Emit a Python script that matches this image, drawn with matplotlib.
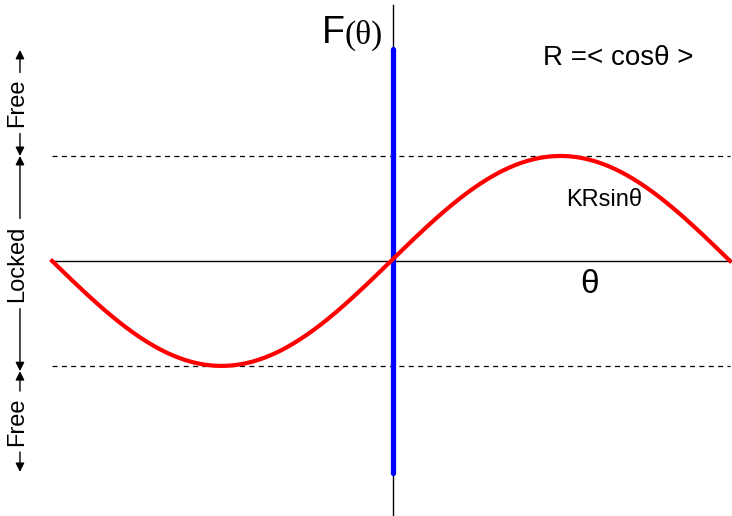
import numpy as np
import matplotlib
matplotlib.use("Agg")
import matplotlib.pyplot as plt

# Curve parameters
theta_min, theta_max = -np.pi, np.pi
amplitude = 1.0          # KR, peak of the coupling force
force_extent = 2.02      # half-length of the vertical F(theta) bar
n_points = 400

# Regions along the force axis: (label, y_low, y_high)
regions = [("Free", 1.0, 2.01), ("Locked", -1.05, 1.0), ("Free", -2.01, -1.05)]

fig = plt.figure(figsize=(7.32, 5.16), dpi=100)
ax = fig.add_axes([0, 0, 1, 1])
ax.set_xlim(-3.624, 3.160)
ax.set_ylim(-2.43, 2.486)
ax.axis("off")

sans = "Liberation Sans"
serif = "Liberation Serif"

theta = np.linspace(theta_min, theta_max, n_points)
force = amplitude * np.sin(theta)

# Axes through the origin
ax.plot([theta_min, theta_max], [0, 0], color="black", lw=1.0, zorder=2)
ax.plot([0.015, 0.015], [-2.5, 2.44], color="black", lw=1.0, zorder=2)

# Locking thresholds
for level in (amplitude, -amplitude):
    ax.plot([theta_min, theta_max], [level, level], color="black", lw=0.9,
            ls=(0, (4, 3.5)), zorder=2)

# Vertical force bar and the sinusoidal coupling
ax.plot([0.015, 0.015], [-force_extent, force_extent], color="#0000ff",
        lw=3.8, solid_capstyle="round", zorder=3)
ax.plot(theta, force, color="#ff0000", lw=3.0, zorder=4)

# Labels
ax.text(-0.425, 2.17, "F", fontsize=27, family=sans, ha="right", va="center")
ax.text(-0.43, 2.15, "(θ)", fontsize=24, family=serif, ha="left", va="center")
ax.text(1.41, 1.93, "R =< cosθ >", fontsize=20, family=sans, ha="left", va="center")
ax.text(1.62, 0.58, "KRsinθ", fontsize=17, family=sans, ha="left", va="center")
ax.text(1.84, -0.22, "θ", fontsize=24, family=sans, ha="center", va="center")

# Free / Locked bracket on the left
x_arrow = -3.439
x_text = -3.465
for label, lo, hi in regions:
    mid = (lo + hi) / 2
    half = 0.29 if label == "Free" else 0.43
    ax.text(x_text, mid, label, rotation=90, fontsize=17, family=sans,
            ha="center", va="center")
    for end, start in ((hi, mid + half), (lo, mid - half)):
        ax.annotate("", xy=(x_arrow, end), xytext=(x_arrow, start),
                    arrowprops=dict(arrowstyle="-|>", color="black", lw=1.0,
                                    mutation_scale=13, shrinkA=0, shrinkB=0))

fig.savefig("out.png", dpi=100)
